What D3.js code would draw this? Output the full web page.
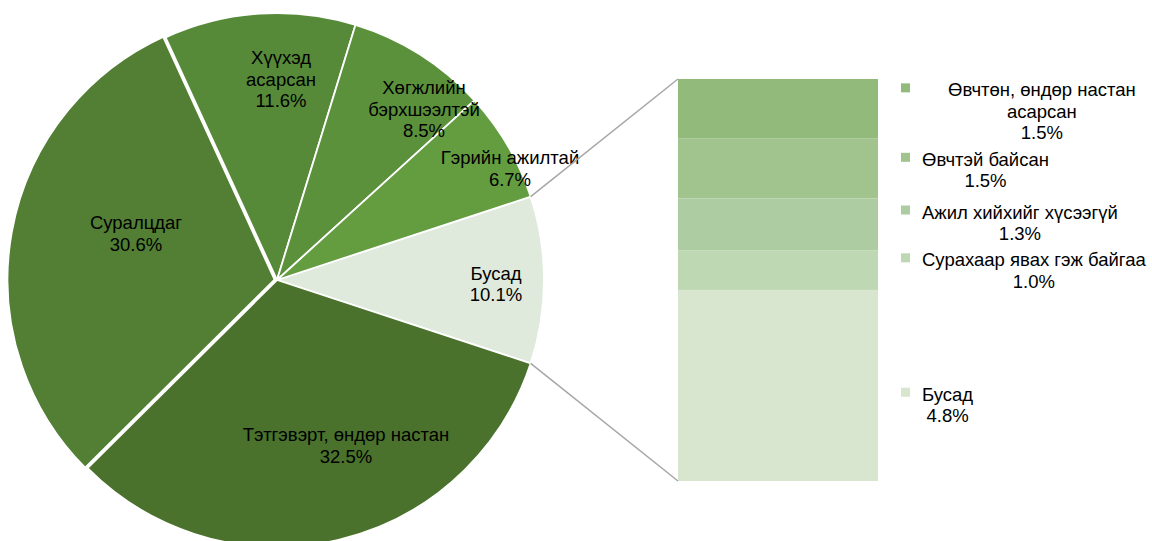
<!DOCTYPE html>
<html><head><meta charset="utf-8">
<script src="https://cdn.jsdelivr.net/npm/d3@7"></script>
<style>
body{margin:0;background:#fff;}
svg{display:block;}
text{font-family:"Liberation Sans",Arial,sans-serif;font-size:18.5px;fill:#000;}
</style>
</head><body>
<svg id="c" width="1152" height="541"></svg>
<script>
// ---- data ----
const pieCategories = ["Бусад","Тэтгэвэрт, өндөр настан","Суралцдаг","Хүүхэд асарсан","Хөгжлийн бэрхшээлтэй","Гэрийн ажилтай"];
const pieValues = [10.1, 32.5, 30.6, 11.6, 8.5, 6.7];
const pieLabelLines = [["Бусад"],["Тэтгэвэрт, өндөр настан"],["Суралцдаг"],["Хүүхэд","асарсан"],["Хөгжлийн","бэрхшээлтэй"],["Гэрийн ажилтай"]];
const pieColors = ["#e0eadc","#4a722c","#527f34","#578a38","#5c913c","#649c40"];

const barCategories = ["Өвчтөн, өндөр настан асарсан","Өвчтэй байсан","Ажил хийхийг хүсээгүй","Сурахаар явах гэж байгаа","Бусад"];
const barLabelLines = [["Өвчтөн, өндөр настан","асарсан"],["Өвчтэй байсан"],["Ажил хийхийг хүсээгүй"],["Сурахаар явах гэж байгаа"],["Бусад"]];
const barValues = [1.5, 1.5, 1.3, 1.0, 4.8];
const barColors = ["#92bb7b","#a1c48f","#aecca1","#bfd8b4","#d8e5cf"];

// ---- layout ----
const svg = d3.select("#c");
const cx = 277, cy = 280, R = 267;
const lineH = 21.5;
const fmt = v => d3.format(".1f")(v) + "%";

const total = d3.sum(pieValues);
const startA = Math.PI/2 - (pieValues[0]/total)*Math.PI;
const pie = d3.pie().sort(null).value(d => d).startAngle(startA).endAngle(startA + 2*Math.PI);
const arcs = pie(pieValues);
const arc = d3.arc().innerRadius(0).outerRadius(R);

const explode = [0,0,2.5,0,0,0];
const g = svg.append("g").attr("transform", `translate(${cx},${cy})`);
g.selectAll("path").data(arcs).join("path")
  .attr("d", arc)
  .attr("fill", (d,i) => pieColors[i])
  .attr("stroke", "#fff")
  .attr("stroke-width", 1.8)
  .attr("stroke-linejoin", "round")
  .attr("transform", (d,i) => {
    const m = (d.startAngle + d.endAngle)/2;
    return `translate(${Math.sin(m)*explode[i]},${-Math.cos(m)*explode[i]})`;
  });

// pie labels: [dx, firstBaseline dy] relative to pie centre
const pieLabelPos = [[219,-0.5],[69,161],[-141,-51],[4,-216],[147,-186],[233,-116]];
arcs.forEach((d,i) => {
  const lines = pieLabelLines[i].concat([fmt(pieValues[i])]);
  const t = g.append("text").attr("text-anchor","middle");
  lines.forEach((s,k) => {
    t.append("tspan").attr("x", pieLabelPos[i][0]).attr("y", pieLabelPos[i][1] + k*lineH).text(s);
  });
});

// ---- bar of pie ----
const barX0 = 678, barW = 200, barTop = 79, barBot = 481;
const y = d3.scaleLinear().domain([0, d3.sum(barValues)]).range([barTop, barBot]);
const cum = d3.cumsum(barValues);
const segs = barValues.map((v,i) => ({v, y0: (cum[i]-v), y1: cum[i]}));

svg.append("g").selectAll("rect").data(segs).join("rect")
  .attr("x", barX0).attr("width", barW)
  .attr("y", d => y(d.y0)).attr("height", d => y(d.y1) - y(d.y0))
  .attr("fill", (d,i) => barColors[i]);

// connector lines
const a1 = arcs[0].startAngle, a2 = arcs[0].endAngle;
const conn = svg.append("g").attr("stroke","#a6a6a6").attr("stroke-width",1.5).attr("fill","none");
conn.append("line")
  .attr("x1", cx + R*Math.sin(a1)).attr("y1", cy - R*Math.cos(a1))
  .attr("x2", barX0).attr("y2", y(0));
conn.append("line")
  .attr("x1", cx + R*Math.sin(a2)).attr("y1", cy - R*Math.cos(a2))
  .attr("x2", barX0).attr("y2", y(d3.sum(barValues)));

// bar labels with key squares
const keyX = 901, keySize = 9;
const textLeft = [948, 922, 922, 922, 922];
const nudge = [3, 2, -1, 1, 20];
segs.forEach((d,i) => {
  const lines = barLabelLines[i].concat([fmt(d.v)]);
  const mid = (y(d.y0) + y(d.y1))/2 + nudge[i];
  const b0 = mid - (lines.length-1)*lineH/2 + 6;
  const t = svg.append("text").attr("text-anchor","middle");
  const spans = lines.map((s,k) => t.append("tspan").attr("y", b0 + k*lineH).text(s));
  const w = d3.max(spans, s => s.node().getComputedTextLength());
  spans.forEach(s => s.attr("x", textLeft[i] + w/2));
  svg.append("rect").attr("x", keyX).attr("y", b0 - 13).attr("width", keySize).attr("height", keySize)
    .attr("fill", barColors[i]);
});
</script>
</body></html>
